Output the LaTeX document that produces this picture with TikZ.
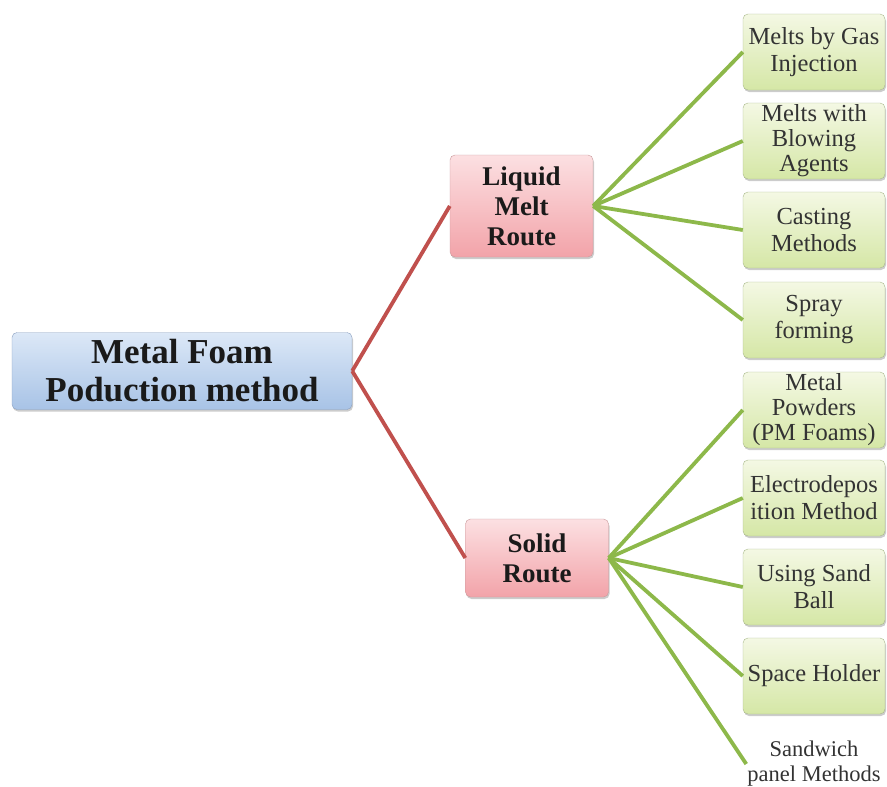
\documentclass[tikz,border=0pt]{standalone}
\usepackage{fontspec}
\setmainfont{Liberation Serif}
\usepackage{xcolor}
\usetikzlibrary{shadows}

\definecolor{rootTop}{HTML}{DCE8F7}
\definecolor{rootBot}{HTML}{A8C3E6}
\definecolor{rootLine}{HTML}{8A9FBF}
\definecolor{routeTop}{HTML}{FCE0E2}
\definecolor{routeBot}{HTML}{F2A3A9}
\definecolor{routeLine}{HTML}{C99A9C}
\definecolor{leafTop}{HTML}{F4F8E4}
\definecolor{leafBot}{HTML}{D5E7A6}
\definecolor{leafLine}{HTML}{A9B98C}
\definecolor{redLink}{HTML}{C0504D}
\definecolor{greenLink}{HTML}{8DB84A}
\definecolor{txtDark}{HTML}{1A1A1A}
\definecolor{txtGray}{HTML}{333333}

\begin{document}
\begin{tikzpicture}[x=1pt, y=1pt,
    root/.style={rectangle, rounded corners=5pt, draw=rootLine, top color=rootTop, bottom color=rootBot,
        drop shadow={shadow xshift=1pt, shadow yshift=-2pt, opacity=0.4},
        minimum width=340pt, minimum height=77pt, inner sep=0pt, align=center, text=txtDark,
        font=\fontsize{35}{38}\selectfont\bfseries},
    route/.style={rectangle, rounded corners=5pt, draw=routeLine, top color=routeTop, bottom color=routeBot,
        drop shadow={shadow xshift=1pt, shadow yshift=-2pt, opacity=0.4},
        minimum width=143pt, inner sep=0pt, align=center, text=txtDark,
        font=\fontsize{27}{30}\selectfont\bfseries},
    leaf/.style={rectangle, rounded corners=5pt, draw=leafLine, top color=leafTop, bottom color=leafBot,
        drop shadow={shadow xshift=1pt, shadow yshift=-2pt, opacity=0.4},
        minimum width=142pt, minimum height=76pt, inner sep=0pt, align=center, text=txtGray,
        font=\fontsize{24.5}{27}\selectfont},
    tight/.style={font=\fontsize{24.5}{25}\selectfont},
    redlink/.style={draw=redLink, line width=3.8pt},
    greenlink/.style={draw=greenLink, line width=3.8pt}
]
    \useasboundingbox (0,0) rectangle (887,-787);

    % Root
    \node[root] (foam) at (182,-371) {Metal Foam\\Poduction method};

    % Routes
    \node[route, minimum height=102pt] (liquid) at (521.5,-206) {Liquid\\Melt\\Route};
    \node[route, minimum height=78pt] (solid) at (537,-558) {Solid\\Route};

    % Liquid melt methods
    \node[leaf] (gas) at (814,-52) {Melts by Gas\\Injection};
    \node[leaf, tight] (blowing) at (814,-141) {Melts with\\Blowing\\Agents};
    \node[leaf] (casting) at (814,-230) {Casting\\Methods};
    \node[leaf] (spray) at (814,-320) {Spray\\forming};

    % Solid methods
    \node[leaf, tight] (powder) at (814,-410) {Metal\\Powders\\(PM Foams)};
    \node[leaf] (electro) at (814,-498) {Electrodepos\\ition Method};
    \node[leaf] (sand) at (814,-587) {Using Sand\\Ball};
    \node[leaf] (holder) at (814,-676) {Space Holder};
    \node[align=center, text=txtGray, inner sep=1pt, font=\fontsize{22.5}{25}\selectfont] (sandwich) at (814,-764) {Sandwich\\panel Methods};

    % Links
    \draw[redlink] (foam.east) -- (liquid.west);
    \draw[redlink] (foam.east) -- (solid.west);

    \draw[greenlink] (liquid.east) -- (gas.west);
    \draw[greenlink] (liquid.east) -- (blowing.west);
    \draw[greenlink] (liquid.east) -- (casting.west);
    \draw[greenlink] (liquid.east) -- (spray.west);

    \draw[greenlink] (solid.east) -- (powder.west);
    \draw[greenlink] (solid.east) -- (electro.west);
    \draw[greenlink] (solid.east) -- (sand.west);
    \draw[greenlink] (solid.east) -- (holder.west);
    \draw[greenlink] (solid.east) -- (sandwich.west);
\end{tikzpicture}
\end{document}
